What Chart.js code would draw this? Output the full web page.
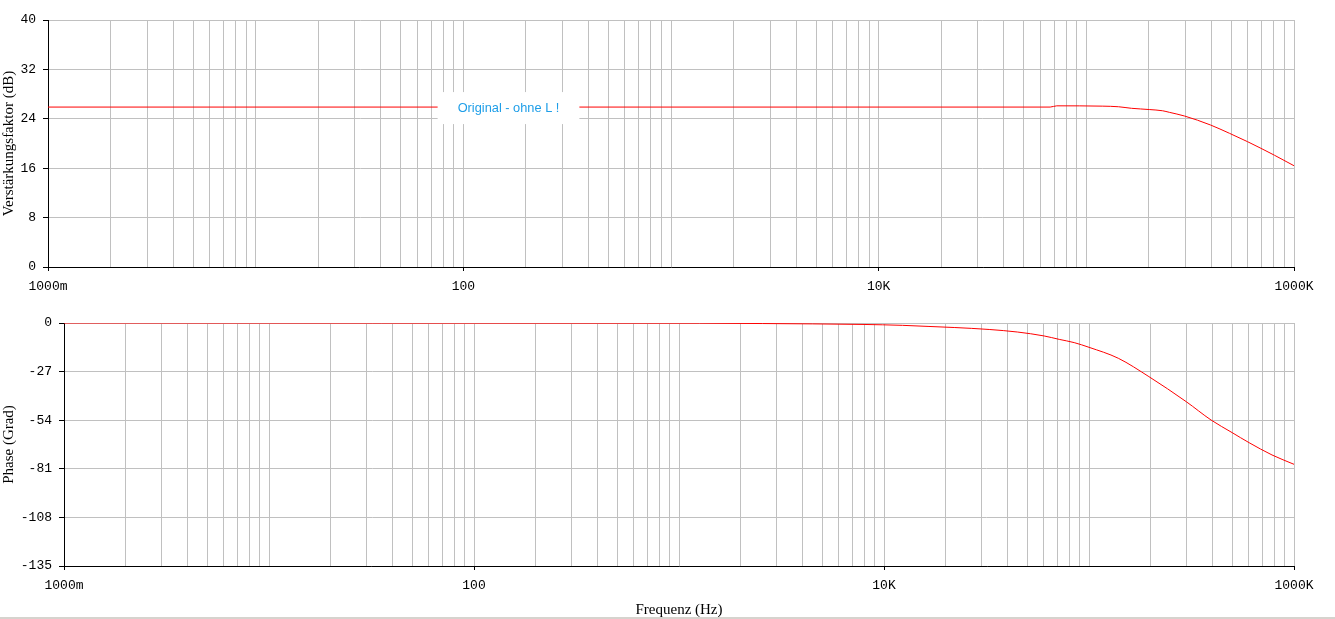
<!DOCTYPE html>
<html>
<head>
<meta charset="utf-8">
<script src="https://cdn.jsdelivr.net/npm/chart.js@4"></script>
<style>
  html, body { margin: 0; padding: 0; background: #fff; }
  body { width: 1335px; height: 619px; position: relative; overflow: hidden; }
  #gain { position: absolute; left: 0; top: 0; }
  #phase { position: absolute; left: 0; top: 300px; }
  #frame { position: absolute; left: 0; top: 617px; width: 1335px; height: 2px; background: #d6d3ce; }
</style>
</head>
<body>
<canvas id="gain" width="1335" height="300"></canvas>
<canvas id="phase" width="1335" height="319"></canvas>
<div id="frame"></div>
<script>
// Frequenzgang (Bode)
const gainFreq = [1, 67000, 72000, 120000, 143000, 165000, 201000, 233000, 251000, 297000, 396000, 489000, 597000, 805000, 1000000];
const gainDb   = [25.9, 25.9, 26.1, 26.05, 25.95, 25.7, 25.5, 25.3, 25.05, 24.45, 23.0, 21.65, 20.3, 18.1, 16.4];

const phaseFreq = [1, 1260, 2550, 7900, 12300, 16400, 22000, 32600, 44700, 60400, 71600, 84700, 100000, 139000, 196000, 298000, 394000, 499000, 604000, 781000, 1000000];
const phaseDeg  = [0, -0.1, -0.3, -0.8, -1.3, -1.9, -2.5, -3.6, -5.0, -7.2, -9.1, -10.9, -13.5, -19.6, -29.8, -43.7, -53.9, -60.9, -66.5, -73.3, -78.5];

const gainTicks = [0, 8, 16, 24, 32, 40];
const phaseTicks = [-135, -108, -81, -54, -27, 0];
const freqLabels = { 1: '1000m', 100: '100', 10000: '10K', 1000000: '1000K' };

const traceLabel = 'Original - ohne L !';
const traceLabelFreq = 165;

const tickFont = { family: 'Liberation Mono, Courier New, monospace', size: 13 };
const titleFont = { family: 'Liberation Serif, Times New Roman, serif', size: 15 };

// alle Dekaden-Gitterlinien 1..9 x 10^n
function logGrid(scale) {
  const t = [];
  for (let e = 0; e < 6; e++) {
    for (let m = 1; m <= 9; m++) t.push({ value: m * Math.pow(10, e) });
  }
  t.push({ value: 1e6 });
  scale.ticks = t;
}

function toPoints(xs, ys) {
  return xs.map((x, i) => ({ x: x, y: ys[i] }));
}

function xScale(height, showTitle) {
  return {
    type: 'logarithmic',
    min: 1,
    max: 1e6,
    afterBuildTicks: logGrid,
    afterFit: s => { s.height = height; },
    border: { color: '#000', width: 1 },
    grid: {
      color: '#c0c0c0',
      tickLength: 4,
      tickColor: c => (freqLabels[c.tick && c.tick.value] ? '#000' : 'rgba(0,0,0,0)')
    },
    ticks: {
      autoSkip: false,
      maxRotation: 0,
      padding: 8,
      color: '#000',
      font: tickFont,
      callback: v => freqLabels[v] || ''
    },
    title: {
      display: showTitle,
      text: 'Frequenz (Hz)',
      color: '#000',
      font: titleFont,
      padding: 0
    }
  };
}

function yScale(min, max, step, ticksArr, width, title) {
  return {
    min: min,
    max: max,
    afterBuildTicks: s => { s.ticks = ticksArr.map(v => ({ value: v })); },
    afterFit: s => { s.width = width; },
    border: { color: '#000', width: 1 },
    grid: { color: '#c0c0c0', tickLength: 5, tickColor: '#000' },
    ticks: { padding: 7, color: '#000', font: tickFont, stepSize: step },
    title: { display: true, text: title, color: '#000', font: titleFont, padding: 0 }
  };
}

const labelPlugin = {
  id: 'traceLabel',
  afterDatasetsDraw(chart) {
    const c = chart.ctx;
    const x = chart.scales.x.getPixelForValue(traceLabelFreq);
    const y = chart.scales.y.getPixelForValue(gainDb[0]);
    c.save();
    c.font = '12.8px "Liberation Sans", Arial, sans-serif';
    const w = c.measureText(traceLabel).width + 40;
    c.fillStyle = '#fff';
    c.fillRect(x - w / 2, y - 15, w, 32);
    c.fillStyle = '#1e9ee8';
    c.textAlign = 'center';
    c.textBaseline = 'middle';
    c.fillText(traceLabel, x, y + 1);
    c.restore();
  }
};

new Chart(document.getElementById('gain'), {
  type: 'line',
  data: {
    datasets: [{
      data: toPoints(gainFreq, gainDb),
      borderColor: '#ff0000',
      borderWidth: 1,
      pointRadius: 0,
      cubicInterpolationMode: 'monotone'
    }]
  },
  options: {
    responsive: false,
    animation: false,
    layout: { padding: { top: 20, right: 41, left: 0, bottom: 0 } },
    plugins: { legend: { display: false }, tooltip: { enabled: false } },
    scales: {
      x: xScale(33, false),
      y: yScale(0, 40, 8, gainTicks, 48, 'Verstärkungsfaktor (dB)')
    }
  },
  plugins: [labelPlugin]
});

new Chart(document.getElementById('phase'), {
  type: 'line',
  data: {
    datasets: [{
      data: toPoints(phaseFreq, phaseDeg),
      borderColor: '#ff0000',
      borderWidth: 1,
      pointRadius: 0,
      cubicInterpolationMode: 'monotone'
    }]
  },
  options: {
    responsive: false,
    animation: false,
    layout: { padding: { top: 23, right: 41, left: 0, bottom: 0 } },
    plugins: { legend: { display: false }, tooltip: { enabled: false } },
    scales: {
      x: xScale(53, true),
      y: yScale(-135, 0, 27, phaseTicks, 64, 'Phase (Grad)')
    }
  }
});
</script>
</body>
</html>
